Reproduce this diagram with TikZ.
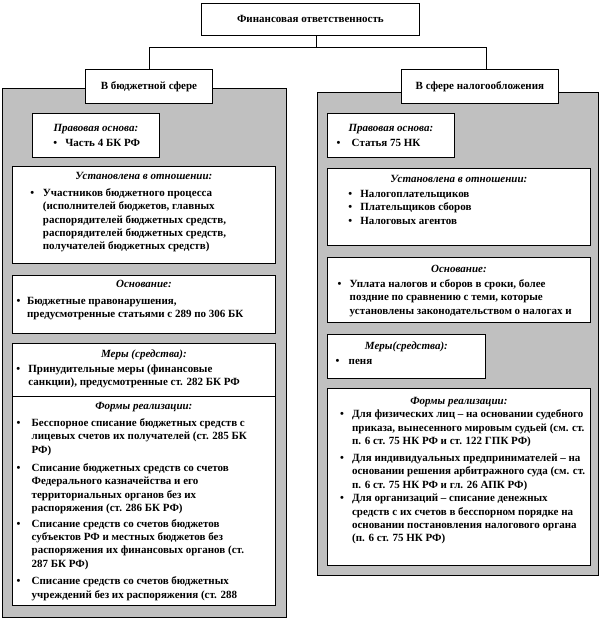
\documentclass[tikz,border=0pt]{standalone}
\usepackage{fontspec}
\setmainfont{Liberation Serif}
\usetikzlibrary{positioning}
\definecolor{panelgray}{RGB}{192,192,192}
\newcommand{\fsz}{\fontsize{11bp}{13.4bp}\selectfont}
% card body: width, height, top pad, content
\newcommand{\cardbox}[4]{\parbox[t][#2][t]{#1}{\lineskip=0pt\lineskiplimit=0pt\vspace*{#3}#4}}
\newcommand{\cardtitle}[1]{{\centering\itshape #1\strut\par}}
% bullet: indent, hang, lines
\newcommand{\bul}[3]{\noindent\hspace*{#1}\makebox[#2][l]{\textbullet}\begin{tabular}[t]{@{}l@{}}#3\end{tabular}\par}
\tikzset{
  pnl/.style={draw=black,fill=panelgray,line width=0.8pt,inner sep=0pt,anchor=north west},
  hdr/.style={draw=black,fill=white,line width=0.8pt,inner sep=0pt,font=\fsz\bfseries,anchor=north west},
  crd/.style={draw=black,fill=white,line width=0.8pt,inner sep=0pt,font=\fsz\bfseries,anchor=north west},
  ln/.style={line width=0.8pt},
}
\begin{document}
\begin{tikzpicture}[x=1bp,y=-1bp]
\useasboundingbox (0,0) rectangle (602,628);
% grey panels
\node[pnl,minimum width=284bp,minimum height=529bp] (lpanel) at (2,88) {};
\node[pnl,minimum width=281bp,minimum height=483bp] (rpanel) at (317,92) {};
% headers
\node[hdr,minimum width=218bp,minimum height=32bp] (fin) at (201,3) {Финансовая ответственность};
\node[hdr,minimum width=127bp,minimum height=34bp] (budg) at (85,69) {В бюджетной сфере};
\node[hdr,minimum width=157bp,minimum height=34bp] (tax) at (401,69) {В сфере налогообложения};
\draw[ln] ([xshift=6bp]fin.south) -- ++(0,12) coordinate (split);
\draw[ln] (split) -| (budg.north);
\draw[ln] (split) -| ([xshift=6bp]tax.north);
% left column
\node[crd] (lbase) at (32,113) {\cardbox{127bp}{44bp}{8.6bp}{%
  \cardtitle{Правовая основа:}\vspace{1.6bp}
  \bul{21bp}{12bp}{Часть 4 БК РФ}}};
\node[crd] (lsubj) at (12,166) {\cardbox{263bp}{97bp}{3.6bp}{%
  \cardtitle{Установлена в отношении:}\vspace{3.6bp}
  \bul{18bp}{12.5bp}{Участников бюджетного процесса\\(исполнителей бюджетов, главных\\распорядителей бюджетных средств,\\распорядителей бюджетных средств,\\получателей бюджетных средств)}}};
\node[crd] (lground) at (12,275) {\cardbox{263bp}{58bp}{2.6bp}{%
  \cardtitle{Основание:}\vspace{3.6bp}
  \bul{4.3bp}{10.4bp}{Бюджетные правонарушения,\\предусмотренные статьями с 289 по 306 БК}}};
\node[crd] (lmeas) at (12,343) {\cardbox{263bp}{53bp}{4.6bp}{%
  \cardtitle{Меры (средства):}\vspace{1.6bp}
  \bul{4bp}{12bp}{Принудительные меры (финансовые\\санкции), предусмотренные ст. 282 БК РФ}}};
\node[crd] (lform) at (12,396) {\cardbox{263bp}{209bp}{3.6bp}{%
  \cardtitle{Формы реализации:}\vspace{3.6bp}
  \bul{4.3bp}{15bp}{Бесспорное списание бюджетных средств с\\лицевых счетов их получателей (ст. 285 БК\\РФ)}\vspace{5bp}
  \bul{4.3bp}{15bp}{Списание бюджетных средств со счетов\\Федерального казначейства и его\\территориальных органов без их\\распоряжения (ст. 286 БК РФ)}\vspace{2bp}
  \bul{4.3bp}{15bp}{Списание средств со счетов бюджетов\\субъектов РФ и местных бюджетов без\\распоряжения их финансовых органов (ст.\\287 БК РФ)}\vspace{4bp}
  \bul{4.3bp}{15bp}{Списание средств со счетов бюджетных\\учреждений без их распоряжения (ст. 288}}};
% right column
\node[crd] (rbase) at (327,113) {\cardbox{127bp}{44bp}{8.6bp}{%
  \cardtitle{Правовая основа:}\vspace{1.6bp}
  \bul{9.3bp}{15bp}{Статья 75 НК}}};
\node[crd] (rsubj) at (327,168) {\cardbox{263bp}{77bp}{4.6bp}{%
  \cardtitle{Установлена в отношении:}\vspace{1.6bp}
  \bul{21bp}{12bp}{Налогоплательщиков}
  \bul{21bp}{12bp}{Плательщиков сборов}
  \bul{21bp}{12bp}{Налоговых агентов}}};
\node[crd] (rground) at (327,257) {\cardbox{263bp}{65bp}{5.6bp}{%
  \cardtitle{Основание:}\vspace{1.6bp}
  \bul{10.3bp}{12bp}{Уплата налогов и сборов в сроки, более\\поздние по сравнению с теми, которые\\установлены законодательством о налогах и}}};
\node[crd] (rmeas) at (327,334) {\cardbox{158bp}{44bp}{5.6bp}{%
  \cardtitle{Меры(средства):}\vspace{1.6bp}
  \bul{8.3bp}{13bp}{пеня}}};
\node[crd] (rform) at (327,388) {\cardbox{263bp}{177bp}{6.6bp}{%
  \cardtitle{Формы реализации:}
  \bul{12.7bp}{12bp}{Для физических лиц – на основании судебного\\приказа, вынесенного мировым судьей (см. ст.\\п. 6 ст. 75 НК РФ и ст. 122 ГПК РФ)}\vspace{3.5bp}
  \bul{12.7bp}{12bp}{Для индивидуальных предпринимателей – на\\основании решения арбитражного суда (см. ст.\\п. 6 ст. 75 НК РФ и гл. 26 АПК РФ)}
  \bul{12.7bp}{12bp}{Для организаций – списание денежных\\средств с их счетов в бесспорном порядке на\\основании постановления налогового органа\\(п. 6 ст. 75 НК РФ)}}};
\end{tikzpicture}
\end{document}
